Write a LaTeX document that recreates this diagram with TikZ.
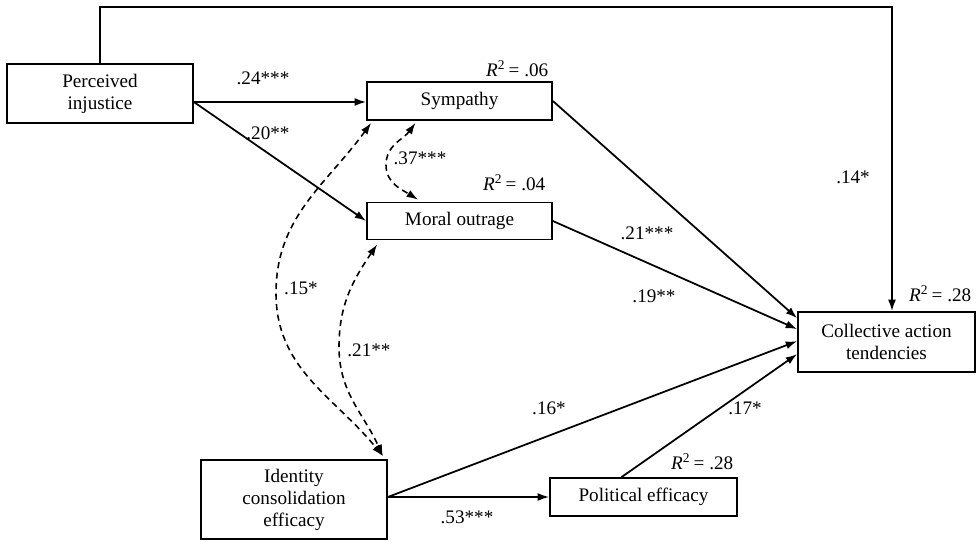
\documentclass[tikz,border=0pt]{standalone}
\usepackage{fontspec}
\setmainfont{Liberation Serif}
\usepackage{tikz}
\usetikzlibrary{arrows.meta, calc, positioning}
\tikzstyle{var}=[draw, rectangle, line width=1pt, align=center, inner sep=0pt, font=\fontsize{10.9}{12.5}\selectfont]
\tikzstyle{coef}=[inner sep=1pt, font=\fontsize{10.9}{12.5}\selectfont]
\tikzstyle{cov}=[dash pattern=on 3.5pt off 2.5pt, line width=0.9pt, {Latex[length=6.5pt,width=4.5pt]}-{Latex[length=6.5pt,width=4.5pt]}]

\begin{document}
\begin{tikzpicture}[x=0.02cm, y=0.02cm, line width=1pt, >={Latex[length=6.5pt,width=4.5pt]}]
	\useasboundingbox (0,0) rectangle (977,-541);
	% variables
	\node [var, minimum width=3.72cm, minimum height=1.18cm] (pi) at (100,-93.5) {Perceived\\injustice};
	\node [var, minimum width=3.7cm, minimum height=0.76cm] (symp) at (459.5,-101) {Sympathy};
	\node [var, minimum width=3.7cm, minimum height=0.74cm] (moral) at (459.5,-221) {Moral outrage};
	\node [var, minimum width=3.54cm, minimum height=1.2cm] (cat) at (886.5,-342) {Collective action\\tendencies};
	\node [var, minimum width=3.72cm, minimum height=1.58cm] (ice) at (294,-499.5) {Identity\\consolidation\\efficacy};
	\node [var, minimum width=3.74cm, minimum height=0.76cm] (pe) at (643.5,-497) {Political efficacy};
	% explained variance
	\node [coef, anchor=base east] (r1) at ($(symp.north east)+(-2,5)$) {\textit{R}\textsuperscript{2}\,= .06};
	\node [coef, anchor=base east] (r2) at ($(moral.north east)+(-5,11)$) {\textit{R}\textsuperscript{2}\,= .04};
	\node [coef, anchor=base east] (r3) at ($(cat.north east)+(-2,10)$) {\textit{R}\textsuperscript{2}\,= .28};
	\node [coef, anchor=base east] (r4) at ($(pe.north east)+(-2,8)$) {\textit{R}\textsuperscript{2}\,= .28};
	% paths
	\coordinate (piout) at ($(pi.east)+(0,-8.5)$);
	\coordinate (iceout) at (ice.east |- pe.west);
	\coordinate (topr) at (892,-7);
	\draw [->] (pi.north) |- (topr) to (topr |- cat.north);
	\draw [->] (piout) to (piout -| symp.west);
	\draw [->] (piout) to (moral.west);
	\draw [->] (symp.east) to ($(cat.north west)+(0,-7)$);
	\draw [->] (moral.east) to ($(cat.north west)+(0,-18)$);
	\draw [->] (iceout) to ($(cat.north west)+(0,-30)$);
	\draw [->] ($(pe.north)+(-22,0)$) to ($(cat.north west)+(0,-43)$);
	\draw [->] (iceout) to (pe.west);
	% covariances
	\draw [cov] ($(symp.south west)+(5,-2)$) to [out=234, in=90] (276,-293) to [out=-90, in=129] ($(ice.north east)+(-5,3)$);
	\draw [cov] ($(moral.south west)+(11,-4)$) to [out=236, in=90] (339,-347) to [out=-90, in=114] ($(ice.north east)+(-5,3)$);
	\draw [cov] ($(symp.south)+(-44,-2)$) to [out=234, in=90] (386,-165) to [out=-90, in=148] ($(moral.north)+(-41.5,2)$);
	% coefficients
	\node [coef] (b1) at (263,-78) {.24***};
	\node [coef] (b2) at (268,-133) {.20**};
	\node [coef] (b3) at (420,-158) {.37***};
	\node [coef] (b4) at (301,-288) {.15*};
	\node [coef] (b5) at (369,-350) {.21**};
	\node [coef] (b6) at (853,-177) {.14*};
	\node [coef] (b7) at (647,-233) {.21***};
	\node [coef] (b8) at (654,-296) {.19**};
	\node [coef] (b9) at (549,-408) {.16*};
	\node [coef] (b10) at (745,-408) {.17*};
	\node [coef] (b11) at (467,-517) {.53***};
\end{tikzpicture}
\end{document}
